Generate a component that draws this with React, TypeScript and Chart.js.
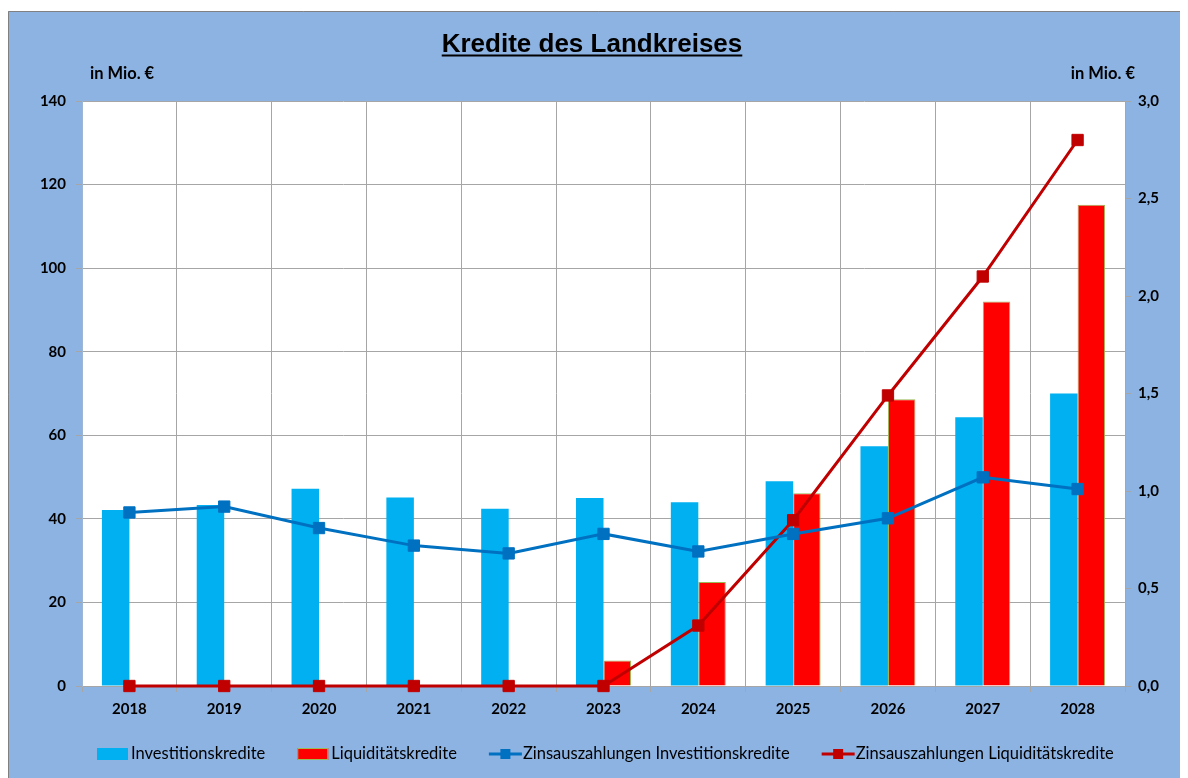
import React, { useEffect, useRef } from "react";
import { Chart, registerables } from "chart.js";

Chart.register(...registerables);

const years = ["2018", "2019", "2020", "2021", "2022", "2023", "2024", "2025", "2026", "2027", "2028"];
const investitionskredite = [42.1, 43.3, 47.2, 45.1, 42.4, 45.0, 44.0, 49.0, 57.4, 64.3, 70.0];
const liquiditaetskredite = [null, null, null, null, null, 6.1, 24.9, 46.1, 68.6, 92.0, 115.2];
const zinsInvestition = [0.89, 0.92, 0.81, 0.72, 0.68, 0.78, 0.69, 0.78, 0.86, 1.07, 1.01];
const zinsLiquiditaet = [0, 0, 0, 0, 0, 0, 0.31, 0.85, 1.49, 2.1, 2.8];
const leftTicks = [0, 20, 40, 60, 80, 100, 120, 140];
const rightTicks = [0, 0.5, 1, 1.5, 2, 2.5, 3];

const FONT = "Lato, 'Open Sans', sans-serif";
const TITLE_FONT = "'Liberation Sans', Arial, sans-serif";
const BG = "#8DB3E2";
const GRID = "#A6A6A6";
const BLUE_BAR = "#00B0F0";
const RED_BAR = "#FF0000";
const BLUE_LINE = "#0070C0";
const RED_LINE = "#C00000";

const decorPlugin = {
  id: "decor",
  beforeDraw(chart: any) {
    const { ctx, width, height, chartArea } = chart;
    ctx.save();
    ctx.fillStyle = BG;
    ctx.fillRect(0, 0, width, height);
    ctx.strokeStyle = "#808080";
    ctx.lineWidth = 1;
    ctx.beginPath();
    ctx.moveTo(0.5, height);
    ctx.lineTo(0.5, 0.5);
    ctx.lineTo(width, 0.5);
    ctx.stroke();
    ctx.fillStyle = "#FFFFFF";
    ctx.fillRect(chartArea.left, chartArea.top, chartArea.right - chartArea.left, chartArea.bottom - chartArea.top);
    ctx.restore();
  },
  afterDraw(chart: any) {
    const { ctx } = chart;
    ctx.save();
    // Title
    const title = "Kredite des Landkreises";
    ctx.font = `bold 26px ${TITLE_FONT}`;
    ctx.fillStyle = "#000000";
    ctx.textAlign = "center";
    ctx.textBaseline = "alphabetic";
    const cx = 584;
    ctx.fillText(title, cx, 41);
    const tw = ctx.measureText(title).width;
    ctx.fillRect(cx - tw / 2, 43.5, tw, 2);

    // unit labels
    ctx.font = `bold 16.5px ${FONT}`;
    ctx.textBaseline = "middle";
    ctx.textAlign = "left";
    ctx.fillText("in Mio. €", 82, 63);
    ctx.textAlign = "right";
    ctx.fillText("in Mio. €", 1127, 63);

    // legend
    const items = [
      { type: "bar", color: BLUE_BAR, stroke: null, text: "Investitionskredite" },
      { type: "bar", color: RED_BAR, stroke: "#9BBB59", text: "Liquiditätskredite" },
      { type: "line", color: BLUE_LINE, text: "Zinsauszahlungen Investitionskredite" },
      { type: "line", color: RED_LINE, text: "Zinsauszahlungen Liquiditätskredite" },
    ];
    ctx.font = `16.5px ${FONT}`;
    ctx.textAlign = "left";
    ctx.textBaseline = "middle";
    const ly = 743;
    let x = 89;
    for (const it of items) {
      if (it.type === "bar") {
        ctx.fillStyle = it.color;
        ctx.fillRect(x, ly - 6, 31, 12);
        if (it.stroke) {
          ctx.strokeStyle = it.stroke;
          ctx.lineWidth = 1;
          ctx.strokeRect(x + 0.5, ly - 5.5, 30, 11);
        }
      } else {
        ctx.strokeStyle = it.color;
        ctx.lineWidth = 3;
        ctx.beginPath();
        ctx.moveTo(x, ly);
        ctx.lineTo(x + 33, ly);
        ctx.stroke();
        ctx.fillStyle = it.color;
        ctx.fillRect(x + 16.5 - 5, ly - 5, 10, 10);
      }
      x += 34;
      ctx.fillStyle = "#000000";
      ctx.fillText(it.text, x, ly);
      x += ctx.measureText(it.text).width + 32;
    }
    ctx.restore();
  },
};

const fmtComma = (v: number) => v.toFixed(1).replace(".", ",");

export default function App() {
  const canvasRef = useRef<HTMLCanvasElement | null>(null);

  useEffect(() => {
    document.body.style.overflow = "hidden";
    if (!canvasRef.current) return;
    const chart = new Chart(canvasRef.current, {
      type: "bar",
      data: {
        labels: years,
        datasets: [
          {
            type: "line",
            label: "Zinsauszahlungen Investitionskredite",
            data: zinsInvestition,
            yAxisID: "y1",
            borderColor: BLUE_LINE,
            backgroundColor: BLUE_LINE,
            borderWidth: 3,
            pointStyle: "rect",
            pointRadius: 8,
            pointBorderWidth: 1,
            pointBorderColor: BLUE_LINE,
            pointBackgroundColor: BLUE_LINE,
            tension: 0,
            clip: false,
            order: 0,
          } as any,
          {
            type: "line",
            label: "Zinsauszahlungen Liquiditätskredite",
            data: zinsLiquiditaet,
            yAxisID: "y1",
            borderColor: RED_LINE,
            backgroundColor: RED_LINE,
            borderWidth: 3,
            pointStyle: "rect",
            pointRadius: 8,
            pointBorderWidth: 1,
            pointBorderColor: RED_LINE,
            pointBackgroundColor: RED_LINE,
            tension: 0,
            clip: false,
            order: 1,
          } as any,
          {
            type: "bar",
            label: "Investitionskredite",
            data: investitionskredite,
            yAxisID: "y",
            backgroundColor: BLUE_BAR,
            borderWidth: 0,
            categoryPercentage: 0.58,
            barPercentage: 1.0,
            order: 2,
          } as any,
          {
            type: "bar",
            label: "Liquiditätskredite",
            data: liquiditaetskredite,
            yAxisID: "y",
            backgroundColor: RED_BAR,
            borderColor: "#9BBB59",
            borderWidth: 1,
            categoryPercentage: 0.58,
            barPercentage: 1.0,
            order: 2,
          } as any,
        ],
      },
      options: {
        animation: false,
        responsive: false,
        devicePixelRatio: 1,
        layout: { padding: { top: 90, left: 0, right: 0, bottom: 0 } },
        plugins: {
          legend: { display: false },
          title: { display: false },
          tooltip: { enabled: false },
        },
        scales: {
          x: {
            type: "category",
            offset: true,
            grid: { offset: true, color: GRID, tickLength: 6, drawTicks: true },
            border: { color: GRID },
            ticks: { color: "#000", font: { family: FONT, size: 15, weight: "bold" }, padding: 8, maxRotation: 0 },
            afterFit: (s: any) => {
              s.height = 92;
            },
          },
          y: {
            position: "left",
            min: 0,
            max: 140,
            afterBuildTicks: (s: any) => {
              s.ticks = leftTicks.map((v) => ({ value: v }));
            },
            grid: { color: GRID, tickLength: 6 },
            border: { color: "#9DB6D6" },
            ticks: { color: "#000", font: { family: FONT, size: 15, weight: "bold" }, padding: 10 },
            afterFit: (s: any) => {
              s.width = 74;
            },
          },
          y1: {
            position: "right",
            min: 0,
            max: 3,
            afterBuildTicks: (s: any) => {
              s.ticks = rightTicks.map((v) => ({ value: v }));
            },
            grid: { drawOnChartArea: false, color: GRID, tickLength: 6 },
            border: { color: GRID },
            ticks: {
              color: "#000",
              font: { family: FONT, size: 15, weight: "bold" },
              padding: 7,
              callback: (v: any) => fmtComma(Number(v)),
            },
            afterFit: (s: any) => {
              s.width = 63;
            },
          },
        },
      } as any,
      plugins: [decorPlugin],
    });
    return () => chart.destroy();
  }, []);

  return (
    <div style={{ width: 1180, height: 767, marginTop: 3 }}>
      <canvas ref={canvasRef} width={1180} height={767} />
    </div>
  );
}
